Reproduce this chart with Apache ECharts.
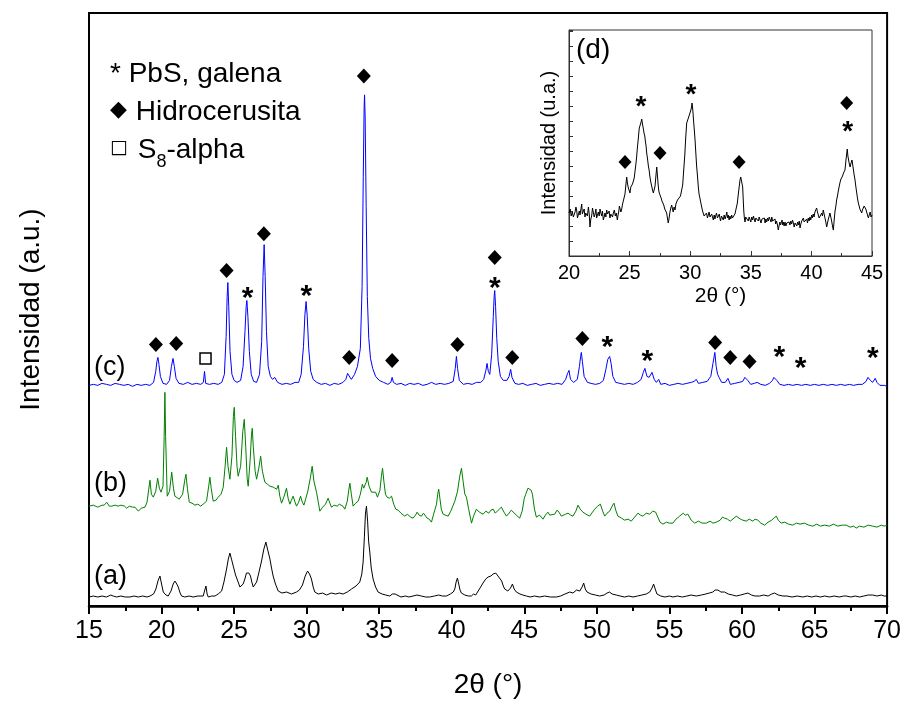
<!DOCTYPE html>
<html><head><meta charset="utf-8">
<script src="https://cdn.jsdelivr.net/npm/echarts/dist/echarts.min.js"></script>
<style>html,body{margin:0;padding:0;background:#fff}#c{width:904px;height:704px}</style>
</head><body><div id="c"></div>
<script>
// ---- Data: [2theta, intensity (a.u., stacked)] ----
const patternA = [[15.0,9],[15.3,10],[15.6,9],[15.9,10],[16.2,9],[16.5,11],[16.67,10],[16.9,9],[17.2,10],[17.5,9],[17.82,9],[18.1,10],[18.4,9],[18.7,10],[19.0,9],[19.2,10],[19.45,12],[19.61,17],[19.75,25],[19.89,30],[20.0,22],[20.12,14],[20.3,11],[20.46,10],[20.65,15],[20.8,22],[20.92,25],[21.05,22],[21.15,19],[21.28,13],[21.38,10],[21.6,9],[21.9,10],[22.18,9],[22.5,10],[22.87,10],[22.98,16],[23.06,20],[23.14,12],[23.22,9],[23.45,10],[23.68,10],[23.9,12],[24.14,15],[24.3,24],[24.48,37],[24.6,47],[24.71,53],[24.82,47],[24.94,40],[25.1,31],[25.28,24],[25.4,19],[25.51,17],[25.62,22],[25.74,27],[25.85,33],[25.93,35],[26.02,33],[26.13,30],[26.22,24],[26.32,19],[26.45,21],[26.55,24],[26.7,33],[26.89,45],[27.05,57],[27.19,64],[27.32,56],[27.47,47],[27.58,38],[27.69,30],[27.85,22],[28.04,15],[28.3,13],[28.62,14],[28.95,12],[29.3,14],[29.5,16],[29.71,21],[29.9,30],[30.06,35],[30.2,32],[30.33,27],[30.45,19],[30.56,14],[30.8,12],[31.1,13],[31.37,11],[31.7,13],[32.0,12],[32.25,13],[32.51,12],[32.8,14],[33.09,17],[33.4,20],[33.66,24],[33.8,32],[33.89,44],[33.98,70],[34.05,92],[34.12,100],[34.2,85],[34.27,65],[34.35,54],[34.45,38],[34.58,27],[34.75,19],[34.92,14],[35.2,12],[35.45,11],[35.73,10],[35.9,12],[36.01,14],[36.1,12],[36.19,10],[36.5,9],[36.8,10],[37.05,9],[37.33,10],[37.6,11],[37.9,10],[38.2,9],[38.48,9],[38.8,10],[39.1,11],[39.35,10],[39.63,10],[39.9,12],[40.1,14],[40.21,17],[40.3,24],[40.39,28],[40.48,22],[40.57,16],[40.66,13],[40.9,11],[41.15,10],[41.35,10],[41.5,12],[41.65,11],[41.82,15],[41.99,19],[42.15,23],[42.34,27],[42.5,29],[42.69,30],[42.85,32],[43.03,33],[43.15,31],[43.24,29],[43.35,27],[43.44,25],[43.55,20],[43.65,17],[43.86,15],[44.05,18],[44.18,22],[44.3,17],[44.45,14],[44.7,12],[44.9,11],[45.14,10],[45.4,9],[45.7,10],[46.06,9],[46.4,10],[46.8,9],[47.21,9],[47.5,10],[47.8,12],[48.13,14],[48.35,13],[48.6,16],[48.82,15],[48.98,19],[49.09,23],[49.2,17],[49.32,14],[49.6,12],[49.9,11],[50.19,10],[50.5,11],[50.7,13],[50.88,14],[51.05,12],[51.34,11],[51.6,10],[51.9,9],[52.2,10],[52.49,9],[52.8,10],[53.1,11],[53.4,12],[53.64,14],[53.8,18],[53.91,22],[54.02,17],[54.14,12],[54.4,10],[54.7,9],[55.0,10],[55.24,9],[55.55,10],[55.9,9],[56.2,10],[56.5,11],[56.85,10],[57.2,11],[57.5,12],[57.75,13],[57.99,14],[58.15,16],[58.34,16],[58.55,14],[58.8,14],[59.05,12],[59.35,11],[59.6,10],[59.9,11],[60.15,12],[60.41,13],[60.65,11],[60.9,10],[61.21,10],[61.5,11],[61.8,10],[62.05,12],[62.24,13],[62.5,11],[62.82,10],[63.1,10],[63.45,9],[63.8,10],[64.19,9],[64.5,10],[64.8,9],[65.1,10],[65.4,9],[65.7,10],[66.03,9],[66.35,10],[66.7,9],[67.0,10],[67.18,10],[67.5,9],[67.8,10],[68.1,9],[68.4,10],[68.7,11],[69.01,11],[69.3,10],[69.6,11],[69.8,10],[70.0,10]];

const patternB = [[15.0,100],[15.3,101],[15.6,99],[15.9,101],[16.05,101],[16.22,104],[16.4,100],[16.56,100],[16.8,101],[17.0,100],[17.2,101],[17.32,102],[17.45,100],[17.59,98],[17.8,100],[18.0,99],[18.17,99],[18.4,95],[18.6,98],[18.86,99],[19.0,104],[19.2,126],[19.3,112],[19.43,109],[19.6,115],[19.73,128],[19.85,118],[19.96,114],[20.1,120],[20.18,170],[20.23,214],[20.28,170],[20.39,110],[20.55,115],[20.7,134],[20.82,118],[20.92,110],[21.05,109],[21.22,107],[21.45,112],[21.6,126],[21.68,132],[21.78,118],[21.91,104],[22.1,103],[22.3,101],[22.5,102],[22.7,100],[22.87,102],[23.1,105],[23.25,120],[23.33,129],[23.42,118],[23.56,105],[23.75,106],[23.9,109],[24.1,112],[24.25,119],[24.38,140],[24.48,159],[24.58,140],[24.71,127],[24.85,150],[24.95,190],[25.01,199],[25.1,170],[25.2,140],[25.28,130],[25.45,140],[25.6,175],[25.7,187],[25.8,160],[25.9,128],[25.97,120],[26.1,145],[26.2,172],[26.25,178],[26.32,160],[26.45,135],[26.55,127],[26.7,138],[26.83,150],[26.95,135],[27.12,124],[27.3,122],[27.47,120],[27.7,119],[27.93,117],[28.04,121],[28.15,110],[28.27,103],[28.45,110],[28.61,118],[28.72,108],[28.84,102],[28.95,106],[29.07,110],[29.2,104],[29.3,100],[29.45,104],[29.58,110],[29.7,104],[29.81,101],[29.95,108],[30.08,115],[30.25,128],[30.38,140],[30.5,125],[30.68,114],[30.8,104],[30.91,95],[31.1,99],[31.3,102],[31.48,108],[31.6,103],[31.71,99],[31.9,101],[32.1,100],[32.25,102],[32.36,104],[32.5,100],[32.63,97],[32.8,105],[32.9,116],[32.98,123],[33.08,112],[33.2,100],[33.38,103],[33.55,105],[33.7,112],[33.84,122],[33.93,118],[34.01,117],[34.1,124],[34.17,129],[34.3,120],[34.47,114],[34.6,116],[34.75,114],[34.88,109],[35.05,116],[35.15,130],[35.23,138],[35.32,125],[35.43,112],[35.54,109],[35.7,108],[35.85,110],[36.0,102],[36.14,97],[36.3,96],[36.5,93],[36.76,90],[36.95,92],[37.15,89],[37.33,88],[37.5,91],[37.61,94],[37.75,91],[37.91,90],[38.05,93],[38.14,91],[38.3,88],[38.45,87],[38.6,84],[38.75,92],[38.95,102],[39.03,112],[39.1,117],[39.18,108],[39.28,97],[39.4,92],[39.55,91],[39.75,90],[39.93,95],[40.1,101],[40.21,105],[40.4,115],[40.55,130],[40.67,138],[40.78,125],[40.9,112],[41.01,109],[41.15,98],[41.36,83],[41.5,90],[41.7,97],[41.9,94],[42.16,92],[42.35,95],[42.55,93],[42.7,96],[42.85,97],[43.0,93],[43.2,96],[43.42,99],[43.6,94],[43.77,90],[43.95,93],[44.1,96],[44.22,94],[44.45,91],[44.68,88],[44.85,95],[45.0,108],[45.1,112],[45.25,118],[45.37,120],[45.47,116],[45.56,112],[45.7,97],[45.83,89],[46.05,91],[46.29,87],[46.45,91],[46.63,94],[46.75,91],[46.86,89],[47.1,92],[47.25,96],[47.39,94],[47.55,90],[47.66,89],[47.85,92],[48.01,93],[48.2,91],[48.35,90],[48.55,95],[48.7,101],[48.85,97],[49.04,94],[49.25,92],[49.5,90],[49.7,94],[49.85,97],[50.05,100],[50.24,102],[50.4,95],[50.54,90],[50.7,93],[50.88,95],[51.05,100],[51.18,103],[51.3,96],[51.45,90],[51.7,88],[51.91,86],[52.15,87],[52.37,85],[52.6,89],[52.83,93],[53.0,91],[53.17,90],[53.4,93],[53.64,92],[53.85,95],[54.05,94],[54.2,89],[54.35,84],[54.55,82],[54.8,84],[55.0,83],[55.24,83],[55.45,87],[55.7,90],[55.95,93],[56.1,91],[56.27,92],[56.5,86],[56.74,83],[57.0,85],[57.25,83],[57.54,83],[57.8,85],[58.0,83],[58.23,84],[58.5,86],[58.65,89],[58.8,88],[59.0,87],[59.19,85],[59.45,88],[59.6,90],[59.72,90],[59.9,87],[60.05,86],[60.29,85],[60.5,87],[60.75,85],[60.9,87],[61.09,86],[61.3,83],[61.56,81],[61.8,84],[62.05,86],[62.2,88],[62.36,90],[62.5,86],[62.7,83],[62.95,84],[63.2,82],[63.5,81],[63.75,83],[64.0,82],[64.31,83],[64.6,81],[64.88,80],[65.15,82],[65.4,80],[65.7,81],[66.03,80],[66.3,82],[66.6,80],[66.9,81],[67.18,81],[67.45,79],[67.7,80],[67.87,78],[68.1,80],[68.4,79],[68.7,81],[69.01,80],[69.3,79],[69.6,81],[69.8,80],[70.0,81]];

const patternC = [[15.0,221],[15.3,222],[15.6,221],[15.9,223],[16.2,222],[16.5,221],[16.8,223],[17.1,222],[17.4,221],[17.7,222],[18.0,220],[18.3,222],[18.6,221],[18.9,222],[19.2,221],[19.45,224],[19.6,235],[19.68,245],[19.75,249],[19.82,242],[19.92,230],[20.1,223],[20.35,222],[20.55,226],[20.68,240],[20.79,248],[20.88,240],[21.0,228],[21.2,223],[21.5,222],[21.8,224],[22.1,222],[22.4,223],[22.7,222],[22.88,224],[22.96,235],[23.04,223],[23.3,222],[23.6,223],[23.9,222],[24.15,224],[24.33,232],[24.45,270],[24.52,310],[24.57,324],[24.63,300],[24.72,255],[24.85,232],[25.0,226],[25.2,224],[25.45,226],[25.62,240],[25.75,275],[25.83,300],[25.88,306],[25.95,290],[26.05,255],[26.18,232],[26.35,225],[26.55,224],[26.75,232],[26.9,265],[26.99,330],[27.07,362],[27.14,330],[27.23,275],[27.35,240],[27.5,230],[27.65,227],[27.8,229],[28.0,224],[28.3,222],[28.6,223],[28.9,222],[29.2,224],[29.45,224],[29.62,232],[29.78,260],[29.88,292],[29.96,305],[30.04,290],[30.14,258],[30.28,235],[30.45,227],[30.7,224],[31.0,222],[31.3,223],[31.6,221],[31.9,223],[32.2,222],[32.5,224],[32.7,227],[32.82,233],[32.88,234],[32.95,231],[33.08,227],[33.3,232],[33.5,240],[33.7,258],[33.82,320],[33.9,430],[33.96,500],[33.99,512],[34.03,490],[34.1,400],[34.18,310],[34.28,268],[34.4,248],[34.55,238],[34.75,230],[35.0,226],[35.3,224],[35.6,222],[35.8,224],[35.89,229],[35.98,224],[36.2,222],[36.5,223],[36.8,221],[37.1,223],[37.4,222],[37.7,223],[38.0,221],[38.3,222],[38.6,224],[38.9,222],[39.2,223],[39.5,222],[39.8,223],[40.1,225],[40.24,238],[40.32,250],[40.4,238],[40.52,226],[40.8,222],[41.1,223],[41.4,222],[41.7,224],[42.0,224],[42.2,227],[42.35,236],[42.43,243],[42.52,235],[42.62,232],[42.75,252],[42.86,290],[42.92,310],[42.96,316],[43.02,300],[43.1,268],[43.2,245],[43.35,230],[43.55,226],[43.8,226],[43.95,230],[44.06,237],[44.15,229],[44.35,223],[44.6,222],[44.9,223],[45.2,221],[45.5,222],[45.8,223],[46.1,221],[46.4,222],[46.7,223],[47.0,222],[47.3,223],[47.6,222],[47.85,227],[47.98,233],[48.08,236],[48.18,227],[48.4,224],[48.65,227],[48.8,240],[48.88,250],[48.93,254],[49.0,245],[49.12,230],[49.35,224],[49.6,223],[49.9,222],[50.2,223],[50.45,226],[50.62,237],[50.75,247],[50.88,250],[50.98,243],[51.1,230],[51.3,224],[51.6,223],[51.9,222],[52.2,223],[52.5,222],[52.8,224],[53.05,227],[53.2,234],[53.31,238],[53.45,230],[53.6,229],[53.8,234],[53.95,227],[54.1,224],[54.26,227],[54.4,222],[54.7,223],[55.0,221],[55.3,222],[55.6,223],[55.9,222],[56.2,223],[56.5,224],[56.7,225],[56.85,227],[57.0,223],[57.3,224],[57.6,225],[57.85,230],[58.0,243],[58.13,254],[58.22,240],[58.32,232],[58.42,229],[58.6,224],[58.85,224],[59.03,228],[59.2,222],[59.5,223],[59.8,224],[60.05,225],[60.2,229],[60.29,231],[60.4,226],[60.6,222],[60.85,223],[61.04,224],[61.3,222],[61.6,221],[61.9,223],[62.1,226],[62.2,229],[62.28,230],[62.4,226],[62.6,222],[62.9,221],[63.2,222],[63.5,221],[63.8,222],[64.1,221],[64.4,222],[64.7,221],[65.0,222],[65.3,221],[65.6,222],[65.9,221],[66.2,222],[66.5,221],[66.8,222],[67.1,221],[67.4,222],[67.7,221],[68.0,222],[68.3,222],[68.55,225],[68.68,229],[68.74,230],[68.85,226],[69.0,224],[69.18,228],[69.3,224],[69.5,221],[69.8,221],[70.0,220]];

// inset (d)
const patternD = [[20.0,43],[20.1,47],[20.18,40],[20.27,44],[20.36,39],[20.5,44],[20.57,49],[20.63,46],[20.7,38],[20.78,40],[20.85,45],[20.91,41],[21.05,52],[21.1,42],[21.18,44],[21.25,47],[21.32,39],[21.38,43],[21.45,45],[21.52,40],[21.6,49],[21.67,42],[21.73,29],[21.8,37],[21.87,40],[21.94,48],[22.01,46],[22.08,39],[22.15,42],[22.22,47],[22.28,38],[22.35,41],[22.42,44],[22.49,40],[22.56,47],[22.63,43],[22.7,40],[22.76,45],[22.83,36],[22.9,39],[22.97,43],[23.04,39],[23.11,46],[23.18,42],[23.25,41],[23.31,45],[23.38,38],[23.45,42],[23.52,44],[23.59,39],[23.66,43],[23.74,46],[23.82,40],[23.9,43],[23.99,36],[24.05,41],[24.1,44],[24.16,50],[24.21,48],[24.28,44],[24.35,47],[24.42,52],[24.48,54],[24.55,52],[24.62,62],[24.7,72],[24.76,79],[24.83,72],[24.9,68],[24.97,66],[25.03,63],[25.1,69],[25.17,67],[25.24,72],[25.31,73],[25.38,78],[25.45,85],[25.52,92],[25.58,99],[25.64,108],[25.7,115],[25.75,122],[25.8,128],[25.85,126],[25.9,130],[25.95,134],[26.0,137],[26.05,133],[26.1,131],[26.15,126],[26.19,123],[26.25,120],[26.3,115],[26.36,110],[26.41,103],[26.48,97],[26.55,90],[26.61,86],[26.68,79],[26.75,74],[26.82,70],[26.89,66],[26.96,63],[27.03,64],[27.1,70],[27.17,80],[27.24,89],[27.3,80],[27.35,72],[27.4,66],[27.45,63],[27.52,61],[27.6,58],[27.67,55],[27.73,53],[27.82,51],[27.9,47],[27.98,45],[28.06,43],[28.12,38],[28.19,33],[28.26,38],[28.33,44],[28.4,48],[28.47,51],[28.54,47],[28.6,44],[28.67,49],[28.75,46],[28.82,52],[28.88,50],[28.95,56],[29.02,54],[29.1,58],[29.2,60],[29.28,65],[29.38,71],[29.46,85],[29.55,100],[29.63,118],[29.71,133],[29.78,134],[29.85,138],[29.92,140],[29.98,143],[30.04,145],[30.08,147],[30.12,150],[30.15,153],[30.2,148],[30.24,142],[30.28,135],[30.34,126],[30.4,116],[30.46,104],[30.53,90],[30.6,80],[30.67,69],[30.73,62],[30.8,58],[30.88,53],[30.95,49],[31.02,45],[31.08,43],[31.15,40],[31.22,38],[31.28,41],[31.35,43],[31.42,38],[31.49,41],[31.56,44],[31.63,39],[31.7,38],[31.77,42],[31.84,39],[31.91,36],[31.98,41],[32.04,37],[32.1,40],[32.17,43],[32.25,38],[32.32,39],[32.4,42],[32.45,38],[32.5,35],[32.58,40],[32.65,38],[32.73,36],[32.8,41],[32.88,37],[32.95,40],[33.02,44],[33.08,38],[33.14,41],[33.21,36],[33.28,40],[33.35,37],[33.42,41],[33.49,38],[33.56,36],[33.63,40],[33.69,42],[33.75,44],[33.82,49],[33.89,53],[33.97,62],[34.05,70],[34.11,76],[34.17,79],[34.21,77],[34.25,74],[34.29,72],[34.33,69],[34.37,58],[34.42,45],[34.47,38],[34.52,34],[34.58,39],[34.65,37],[34.72,40],[34.79,35],[34.86,39],[34.93,38],[35.0,34],[35.08,39],[35.15,36],[35.22,40],[35.28,37],[35.35,34],[35.42,38],[35.49,36],[35.55,39],[35.62,35],[35.69,39],[35.76,38],[35.84,33],[35.92,37],[35.98,39],[36.05,35],[36.12,38],[36.18,33],[36.24,37],[36.31,34],[36.38,38],[36.45,35],[36.52,39],[36.6,38],[36.67,34],[36.73,39],[36.8,35],[36.86,36],[36.93,33],[37.0,37],[37.05,32],[37.12,35],[37.2,31],[37.27,26],[37.33,30],[37.4,34],[37.45,31],[37.5,32],[37.58,36],[37.63,31],[37.68,34],[37.75,30],[37.82,34],[37.9,30],[37.96,33],[38.02,35],[38.09,31],[38.16,34],[38.23,31],[38.3,35],[38.37,32],[38.44,36],[38.51,33],[38.58,29],[38.65,33],[38.72,31],[38.8,30],[38.86,34],[38.93,31],[39.0,35],[39.06,28],[39.13,32],[39.2,35],[39.27,33],[39.34,38],[39.4,34],[39.47,36],[39.54,32],[39.61,37],[39.68,33],[39.74,38],[39.81,35],[39.88,39],[39.95,36],[40.02,41],[40.08,38],[40.15,42],[40.22,39],[40.29,44],[40.36,46],[40.43,48],[40.5,44],[40.57,41],[40.64,38],[40.71,36],[40.78,40],[40.85,43],[40.91,40],[40.98,46],[41.05,42],[41.12,38],[41.19,34],[41.26,29],[41.33,33],[41.4,37],[41.47,40],[41.53,43],[41.6,39],[41.67,35],[41.74,30],[41.81,26],[41.88,36],[41.95,45],[42.02,50],[42.08,56],[42.15,60],[42.22,65],[42.3,70],[42.37,74],[42.44,77],[42.5,79],[42.57,80],[42.65,83],[42.71,84],[42.77,86],[42.82,92],[42.87,98],[42.92,103],[42.96,107],[43.01,100],[43.07,96],[43.13,92],[43.19,89],[43.23,91],[43.27,93],[43.31,95],[43.35,96],[43.41,91],[43.47,86],[43.53,81],[43.6,76],[43.66,70],[43.73,64],[43.8,58],[43.87,53],[43.94,50],[44.0,47],[44.08,45],[44.15,43],[44.21,46],[44.28,48],[44.35,50],[44.42,51],[44.49,47],[44.56,44],[44.63,41],[44.7,38],[44.77,41],[44.85,44],[44.92,39],[45.0,41]];

// phase markers
const hidroC = [[19.61,262],[21.01,263],[24.48,336],[27.05,373],[32.93,249],[33.94,531],[35.89,246],[40.39,262],[42.96,349],[44.17,249],[49.0,268],[58.15,264],[59.19,249],[60.52,245]];
const galenaC = [[25.93,316],[29.98,318],[42.96,326],[50.72,267],[53.47,253],[62.58,257],[64.03,246],[69.02,256]];
const s8C = [[23.03,248]];
const hidroD = [[24.62,94],[27.51,103],[34.03,94],[42.91,153]];
const galenaD = [[25.94,156],[30.07,168],[43.0,131]];

const sampleLabels = ['(a)','(b)','(c)'];
const xTitle = '2θ (°)';

const SANS = "'Liberation Sans', Arial, sans-serif";
const NARROW = "'Liberation Sans Narrow', 'Arial Narrow', 'Liberation Sans', sans-serif";

const chart = echarts.init(document.getElementById('c'), null, {renderer:'canvas'});

function lineSeries(data, color, xi, yi) {
  return {type:'line', data, xAxisIndex:xi, yAxisIndex:yi, showSymbol:false, symbol:'none',
    lineStyle:{color, width:1}, animation:false, z:3, silent:true};
}
function starSeries(data, xi, yi, size) {
  return {type:'scatter', data, xAxisIndex:xi, yAxisIndex:yi, symbolSize:1,
    itemStyle:{color:'rgba(0,0,0,0)', opacity:1}, z:5, silent:true, animation:false,
    label:{show:true, position:'inside', formatter:'*', fontSize:size, fontWeight:'bold',
      fontFamily:SANS, color:'#000', opacity:1, offset:[0, Math.round(size*0.25)]}};
}
function diamondSeries(data, xi, yi, size) {
  return {type:'scatter', data, xAxisIndex:xi, yAxisIndex:yi, symbol:'diamond',
    symbolSize:[size, size+1], itemStyle:{color:'#000', opacity:1}, z:5, silent:true, animation:false};
}

const option = {
  backgroundColor:'#fff',
  animation:false,
  grid:[
    {left:89, top:13, width:799, height:594, show:true, borderColor:'#000', borderWidth:2, backgroundColor:'#fff'},
    {left:569, top:30, width:303, height:226, show:true, borderColor:'#333', borderWidth:1, backgroundColor:'#fff', z:4}
  ],
  xAxis:[
    {gridIndex:0, type:'value', min:15, max:70, interval:5,
     axisLine:{show:true, onZero:false, lineStyle:{color:'#000', width:2.5}},
     axisTick:{show:true, inside:false, length:8, lineStyle:{color:'#000', width:2}},
     minorTick:{show:true, splitNumber:2, length:5, lineStyle:{color:'#000', width:2}},
     splitLine:{show:false},
     axisLabel:{fontSize:25, fontFamily:NARROW, color:'#000', margin:13},
     name:xTitle, nameLocation:'middle', nameGap:65,
     nameTextStyle:{fontSize:28, fontFamily:NARROW, color:'#000'}},
    {gridIndex:1, type:'value', min:20, max:45, interval:5, z:6,
     axisLine:{show:true, onZero:false, lineStyle:{color:'#333', width:1}},
     axisTick:{show:true, inside:true, length:5, lineStyle:{color:'#333', width:1}},
     minorTick:{show:true, splitNumber:2, length:3, lineStyle:{color:'#333', width:1}},
     splitLine:{show:false},
     axisLabel:{fontSize:20, fontFamily:SANS, color:'#000', margin:7},
     name:xTitle, nameLocation:'middle', nameGap:30,
     nameTextStyle:{fontSize:21, fontFamily:SANS, color:'#000'}}
  ],
  yAxis:[
    {gridIndex:0, type:'value', min:0, max:594,
     axisLine:{show:true, onZero:false, lineStyle:{color:'#000', width:2}},
     axisTick:{show:false}, axisLabel:{show:false}, splitLine:{show:false},
     name:'Intensidad (a.u.)', nameLocation:'middle', nameGap:44,
     nameTextStyle:{fontSize:28, fontFamily:SANS, color:'#000'}},
    {gridIndex:1, type:'value', min:0, max:226, interval:15, z:6,
     axisLine:{show:true, onZero:false, lineStyle:{color:'#333', width:1}},
     axisTick:{show:true, inside:true, length:4, lineStyle:{color:'#333', width:1}},
     axisLabel:{show:false}, splitLine:{show:false},
     name:'Intensidad (u.a.)', nameLocation:'middle', nameGap:10,
     nameTextStyle:{fontSize:20, fontFamily:SANS, color:'#000'}}
  ],
  series:[
    lineSeries(patternA, '#000000', 0, 0),
    lineSeries(patternB, '#008000', 0, 0),
    lineSeries(patternC, '#0000ff', 0, 0),
    diamondSeries(hidroC, 0, 0, 14),
    starSeries(galenaC, 0, 0, 30),
    {type:'scatter', data:s8C, xAxisIndex:0, yAxisIndex:0, symbol:'rect', symbolSize:11,
     itemStyle:{color:'#fff', borderColor:'#000', borderWidth:1.5, opacity:1}, z:5, silent:true},
    {...lineSeries(patternD, '#000000', 1, 1), z:7},
    {...diamondSeries(hidroD, 1, 1, 13), z:8},
    {...starSeries(galenaD, 1, 1, 28), z:8}
  ],
  graphic:[
    {type:'text', left:110, top:60, z:10, style:{text:'* PbS, galena', fontSize:28, fontFamily:SANS, fill:'#000'}},
    {type:'text', left:110, top:98, z:10, style:{
      text:'{d|◆} Hidrocerusita', fontSize:28, fontFamily:SANS, fill:'#000',
      rich:{d:{fontSize:22, fontFamily:"'DejaVu Sans', sans-serif", fill:'#000', padding:[0,1,3,0]}}}},
    {type:'text', left:110, top:136, z:10, style:{
      text:'{q|□} S{s|8}-alpha', fontSize:28, fontFamily:SANS, fill:'#000',
      rich:{q:{fontSize:19, fontFamily:"'DejaVu Sans', sans-serif", fill:'#000', padding:[0,2,4,2]},
            s:{fontSize:18, fontFamily:SANS, fill:'#000', padding:[24,0,0,0]}}}},
    {type:'text', left:94, top:354, z:10, style:{text:sampleLabels[2], fontSize:27, fontFamily:SANS, fill:'#000'}},
    {type:'text', left:94, top:470, z:10, style:{text:sampleLabels[1], fontSize:27, fontFamily:SANS, fill:'#000'}},
    {type:'text', left:94, top:563, z:10, style:{text:sampleLabels[0], fontSize:27, fontFamily:SANS, fill:'#000'}},
    {type:'text', left:576, top:36, z:10, style:{text:'(d)', fontSize:28, fontFamily:SANS, fill:'#000'}}
  ]
};
chart.setOption(option);
</script></body></html>
